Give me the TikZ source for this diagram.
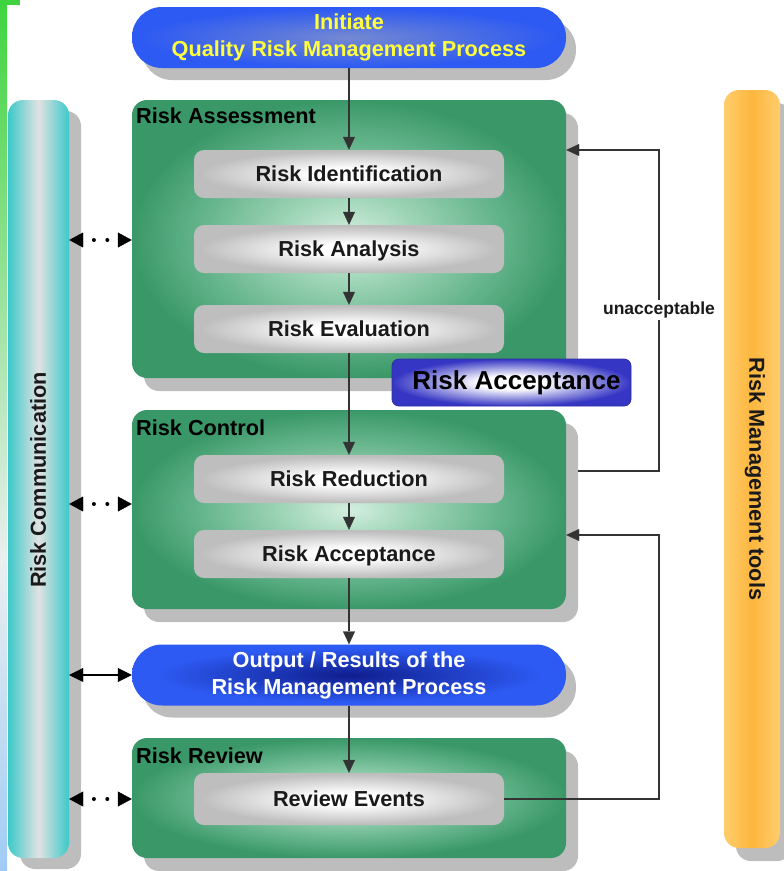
\documentclass[tikz,border=0pt]{standalone}
\usepackage{fontspec}
\setmainfont{Liberation Sans}
\usetikzlibrary{arrows.meta,calc,shadows}

\definecolor{grnL}{HTML}{D4EFDF}
\definecolor{grnM}{HTML}{9DD4B6}
\definecolor{grnN}{HTML}{66B58C}
\definecolor{grnD}{HTML}{3A9868}
\definecolor{gryL}{HTML}{FFFFFF}
\definecolor{gryD}{HTML}{BEBEBE}
\definecolor{bluIn}{HTML}{7488D2}
\definecolor{bluOut}{HTML}{2D5AF2}
\definecolor{navyIn}{HTML}{0F1D8C}
\definecolor{hlD}{HTML}{3636C4}
\definecolor{hlL}{HTML}{FFFFFF}
\definecolor{cyanE}{HTML}{3CC9C9}
\definecolor{cyanM}{HTML}{E2E2E2}
\definecolor{orE}{HTML}{FFCD6C}
\definecolor{orM}{HTML}{FDB63E}
\definecolor{shd}{HTML}{BDBDBD}
\definecolor{lineC}{HTML}{333333}
\definecolor{yel}{HTML}{FFFF3C}
\definecolor{stG}{HTML}{3FD43F}
\definecolor{stW}{HTML}{EAEFF0}
\definecolor{stB}{HTML}{9FCBF5}
\definecolor{txtC}{HTML}{1A1A1A}

\pgfdeclareradialshading{greenrad}{\pgfpoint{0bp}{0bp}}{color(0bp)=(grnL); color(8bp)=(grnM); color(17bp)=(grnN); color(25bp)=(grnD); color(50bp)=(grnD)}
\pgfdeclareradialshading{grayrad}{\pgfpoint{0bp}{0bp}}{color(0bp)=(gryL); color(6bp)=(gryL); color(24bp)=(gryD); color(50bp)=(gryD)}
\pgfdeclareradialshading{initrad}{\pgfpoint{0bp}{0bp}}{color(0bp)=(bluIn); color(24bp)=(bluOut); color(50bp)=(bluOut)}
\pgfdeclareradialshading{outrad}{\pgfpoint{0bp}{0bp}}{color(0bp)=(navyIn); color(22bp)=(bluOut); color(50bp)=(bluOut)}
\pgfdeclareradialshading{hlrad}{\pgfpoint{0bp}{0bp}}{color(0bp)=(hlL); color(7bp)=(hlL); color(25bp)=(hlD); color(50bp)=(hlD)}

\begin{document}
\begin{tikzpicture}[x=1pt,y=-1pt,
  fnt/.style={font=\fontsize{21.7pt}{27pt}\selectfont\bfseries},
  shdw/.style={drop shadow={shadow xshift=12pt, shadow yshift=-13pt, fill=shd, opacity=1}},
  pshdw/.style={drop shadow={shadow xshift=10pt, shadow yshift=-12pt, fill=shd, opacity=1}},
  grnbox/.style={shade, shading=greenrad, rounded corners=15pt, minimum width=434pt, inner sep=0pt, shdw},
  gbox/.style={shade, shading=grayrad, rounded corners=10pt, minimum width=310pt, minimum height=48pt, inner sep=0pt, text height=15.6pt, text depth=0pt, fnt, text=txtC},
  pill/.style={shade, rounded corners=30pt, minimum width=434pt, minimum height=61pt, inner sep=0pt, align=center, fnt, pshdw},
  ttl/.style={anchor=west, inner sep=0pt, text height=15.6pt, text depth=0pt, fnt, text=black},
  hlbox/.style={shade, shading=hlrad, draw=hlD!85!black, line width=0.8pt, rounded corners=7pt, minimum width=239pt, minimum height=47pt, inner sep=0pt, font=\fontsize{26pt}{30pt}\selectfont\bfseries, text=black},
  bar/.style={shade, rounded corners=15pt, minimum height=758pt, inner sep=0pt},
  conn/.style={draw=lineC, line width=1.3pt, -{Triangle[length=13pt,width=12pt,line width=0.4pt]}},
  dotarr/.style={draw=black, line width=4pt, line cap=round, dash pattern=on 0pt off 13.4pt, dash phase=2.6pt,
     {Triangle[length=14pt,width=15pt,line width=0.4pt]}-{Triangle[length=14pt,width=15pt,line width=0.4pt]}},
  solidarr/.style={draw=black, line width=2pt,
     {Triangle[length=14pt,width=14pt,line width=0.4pt]}-{Triangle[length=14pt,width=14pt,line width=0.4pt]}},
  lbl/.style={fill=white, inner sep=2pt, font=\fontsize{17.5pt}{20pt}\selectfont\bfseries, text=txtC}
]
\useasboundingbox (0,0) rectangle (784,871);

% left edge stripe
\shade[top color=stG, bottom color=stW] (0,0) rectangle (7,560);
\shade[top color=stW, bottom color=stB] (0,560) rectangle (7,871);
\fill[stG] (0,0) rectangle (20,5);

% side bars
\node[bar, left color=cyanE, right color=cyanE, middle color=cyanM, minimum width=61pt,
      drop shadow={shadow xshift=12pt, shadow yshift=-11pt, fill=shd, opacity=1}] (rcomm) at (38.5,479) {};
\node[fnt, rotate=90, text=txtC] (rcommT) at (38,480) {Risk Communication};

\node[bar, left color=orE, right color=orE, middle color=orM, minimum width=56pt, shdw] (rmt) at (752,469) {};
\node[fnt, rotate=-90, text=txtC] (rmtT) at (755,479) {Risk Management tools};

% main column
\node[pill, shading=initrad, text=yel] (init) at (349,37.5) {Initiate\\Quality Risk Management Process};

\node[grnbox, minimum height=278pt] (ra) at (349,239) {};
\node[ttl] (raT) at (136,116) {Risk Assessment};
\node[gbox] (ri) at (349,174) {Risk Identification};
\node[gbox] (ran) at (349,249) {Risk Analysis};
\node[gbox] (rev) at (349,329) {Risk Evaluation};

\node[grnbox, minimum height=199pt] (rc) at (349,509.5) {};
\node[ttl] (rcT) at (136,427.5) {Risk Control};
\node[gbox] (rred) at (349,479) {Risk Reduction};
\node[gbox] (racc) at (349,554) {Risk Acceptance};

\node[hlbox] (hl) at (511.5,382.5) {\hspace*{10pt}Risk Acceptance};

\node[pill, shading=outrad, text=white] (out) at (349,675) {Output / Results of the\\Risk Management Process};

\node[grnbox, minimum height=120pt] (rrv) at (349,798) {};
\node[ttl] (rrvT) at (136,755.5) {Risk Review};
\node[gbox, minimum height=52pt] (revt) at (349,799) {Review Events};

% main flow
\draw[conn] (init) -- (ri);
\draw[conn] (ri) -- (ran);
\draw[conn] (ran) -- (rev);
\draw[conn] (rev) -- (rred);
\draw[conn] (rred) -- (racc);
\draw[conn] (racc) -- (out);
\draw[conn] (out) -- (revt);

% feedback loops
\coordinate (fbA) at (659,150);
\coordinate (fbB) at (659,471);
\coordinate (fbC) at (659,535);
\draw[conn] ([xshift=12pt]rc.east |- fbB) -- (fbB) -- (fbA) -- (ra.east |- fbA);
\node[lbl] (unacc) at (659,310) {unacceptable};
\draw[conn] (revt.east) -- (revt.east -| fbC) -- (fbC) -- (rc.east |- fbC);

% communication arrows
\coordinate (l1) at (0,240);
\coordinate (l2) at (0,504);
\coordinate (l3) at (0,675);
\coordinate (l4) at (0,799);
\draw[dotarr] (rcomm.east |- l1) -- (ra.west |- l1);
\draw[dotarr] (rcomm.east |- l2) -- (rc.west |- l2);
\draw[solidarr] (rcomm.east |- l3) -- (out.west |- l3);
\draw[dotarr] (rcomm.east |- l4) -- (rrv.west |- l4);
\end{tikzpicture}
\end{document}
